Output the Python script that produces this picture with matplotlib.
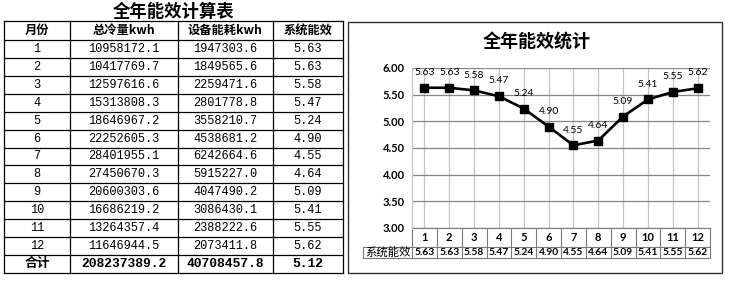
import matplotlib
matplotlib.use('Agg')
import matplotlib.pyplot as plt
from matplotlib.patches import Rectangle
from matplotlib.lines import Line2D

# ---------------- data ----------------
months = [1, 2, 3, 4, 5, 6, 7, 8, 9, 10, 11, 12]
cooling_kwh = [10958172.1, 10417769.7, 12597616.6, 15313808.3, 18646967.2, 22252605.3,
               28401955.1, 27450670.3, 20600303.6, 16686219.2, 13264357.4, 11646944.5]
energy_kwh = [1947303.6, 1849565.6, 2259471.6, 2801778.8, 3558210.7, 4538681.2,
              6242664.6, 5915227.0, 4047490.2, 3086430.1, 2388222.6, 2073411.8]
efficiency = [5.63, 5.63, 5.58, 5.47, 5.24, 4.90, 4.55, 4.64, 5.09, 5.41, 5.55, 5.62]
total_cooling = 208237389.2
total_energy = 40708457.8
total_eff = 5.12
headers = ['月份', '总冷量kwh', '设备能耗kwh', '系统能效']
total_label = '合计'
table_title = '全年能效计算表'
chart_title = '全年能效统计'
series_name = '系统能效'
yticks = [3.00, 3.50, 4.00, 4.50, 5.00, 5.50, 6.00]

CJK = ['Noto Sans CJK SC', 'DejaVu Sans']
MONO = ['Liberation Mono', 'Noto Sans CJK SC']
LAT = ['Lato', 'Noto Sans CJK SC']

W, H = 729, 288
fig = plt.figure(figsize=(W / 100, H / 100), dpi=100)
fig.patch.set_facecolor('white')

bg = fig.add_axes([0, 0, 1, 1])
bg.set_xlim(0, W)
bg.set_ylim(H, 0)
bg.axis('off')

# ---------------- left table ----------------
col_x = [4, 70, 178, 273, 343]
row_h = 17.92
row_y = [21, 40] + [40 + row_h * (i + 1) for i in range(13)]
for y in row_y:
    bg.add_line(Line2D([col_x[0], col_x[-1]], [y, y], color='black', lw=0.9))
for x in col_x:
    bg.add_line(Line2D([x, x], [row_y[0], row_y[-1]], color='black', lw=0.9))

centers = [(col_x[i] + col_x[i + 1]) / 2 for i in range(4)]
bg.text((col_x[0] + col_x[-1]) / 2, 11.5, table_title, ha='center', va='center',
        fontsize=12.5, fontweight='bold', family=CJK)
hy = (row_y[0] + row_y[1]) / 2
for c, h in zip(centers, headers):
    bg.text(c, hy, h, ha='center', va='center', fontsize=8.8, fontweight='bold', family=CJK)

for i, m in enumerate(months):
    yc = (row_y[i + 1] + row_y[i + 2]) / 2
    vals = [str(m), f'{cooling_kwh[i]:.1f}', f'{energy_kwh[i]:.1f}', f'{efficiency[i]:.2f}']
    for c, v in zip(centers, vals):
        bg.text(c, yc, v, ha='center', va='center', fontsize=8.6, family=MONO)

yc = (row_y[13] + row_y[14]) / 2
bg.text(centers[0], yc, total_label, ha='center', va='center', fontsize=9.2,
        fontweight='bold', family=CJK)
for c, v in zip(centers[1:], [f'{total_cooling:.1f}', f'{total_energy:.1f}', f'{total_eff:.2f}']):
    bg.text(c, yc, v, ha='center', va='center', fontsize=9.4, fontweight='bold', family=MONO)

# ---------------- chart ----------------
bg.add_patch(Rectangle((348, 22), 374, 251, fill=False, edgecolor='#333333', lw=1.0))
bg.text(537, 42, chart_title, ha='center', va='center', fontsize=13,
        fontweight='bold', family=CJK)

pl, pr, pt, pb = 412, 710, 68, 228
ax = fig.add_axes([pl / W, (H - pb) / H, (pr - pl) / W, (pb - pt) / H])
ax.set_facecolor('none')
x = list(range(len(months)))
ax.set_xlim(-0.5, len(months) - 0.5)
ax.set_ylim(yticks[0], yticks[-1])
ax.set_yticks(yticks)
ax.set_yticklabels([f'{t:.2f}' for t in yticks], fontsize=8, fontweight='bold', family=LAT)
ax.set_xticks(x)
ax.set_xticklabels([])
ax.tick_params(length=0, pad=5)
ax.yaxis.grid(True, color='#868686', lw=0.9)
ax.xaxis.grid(True, color='#c4c4c4', lw=0.9)
ax.set_axisbelow(True)
for s in ['top', 'right', 'bottom']:
    ax.spines[s].set_visible(False)
ax.spines['left'].set_color('#c4c4c4')
ax.spines['left'].set_linewidth(0.9)

ax.plot(x, efficiency, color='black', lw=1.9, marker='s', ms=6, zorder=3, clip_on=False)
for xi, v in zip(x, efficiency):
    ax.annotate(f'{v:.2f}', (xi, v), xytext=(0, 11), textcoords='offset points',
                ha='center', va='center', fontsize=7.5, family=LAT, annotation_clip=False)

# data table under the chart
trans = ax.get_xaxis_transform()
ph = pb - pt
r1 = -18.5 / ph
r2 = -30.0 / ph
leg_left = (363 - pl) / (pr - pl) * len(months) - 0.5
tc = '#7a7a7a'
ax.add_line(Line2D([-0.5, len(months) - 0.5], [0, 0], transform=trans, color=tc, lw=0.8, clip_on=False))
ax.add_line(Line2D([leg_left, len(months) - 0.5], [r1, r1], transform=trans, color=tc, lw=0.8, clip_on=False))
ax.add_line(Line2D([leg_left, len(months) - 0.5], [r2, r2], transform=trans, color=tc, lw=0.8, clip_on=False))
for k in range(len(months) + 1):
    ax.add_line(Line2D([k - 0.5, k - 0.5], [0, r2], transform=trans, color=tc, lw=0.8, clip_on=False))
ax.add_line(Line2D([leg_left, leg_left], [r1, r2], transform=trans, color=tc, lw=0.8, clip_on=False))
for xi, m, v in zip(x, months, efficiency):
    ax.text(xi, r1 / 2, str(m), transform=trans, ha='center', va='center',
            fontsize=8, fontweight='bold', family=LAT)
    ax.text(xi, (r1 + r2) / 2, f'{v:.2f}', transform=trans, ha='center', va='center',
            fontsize=7.4, fontweight='bold', family=LAT)
ax.text((leg_left - 0.5) / 2, (r1 + r2) / 2, series_name, transform=trans, ha='center',
        va='center', fontsize=8.2, family=CJK)

fig.savefig('out.png', dpi=100, facecolor='white')
